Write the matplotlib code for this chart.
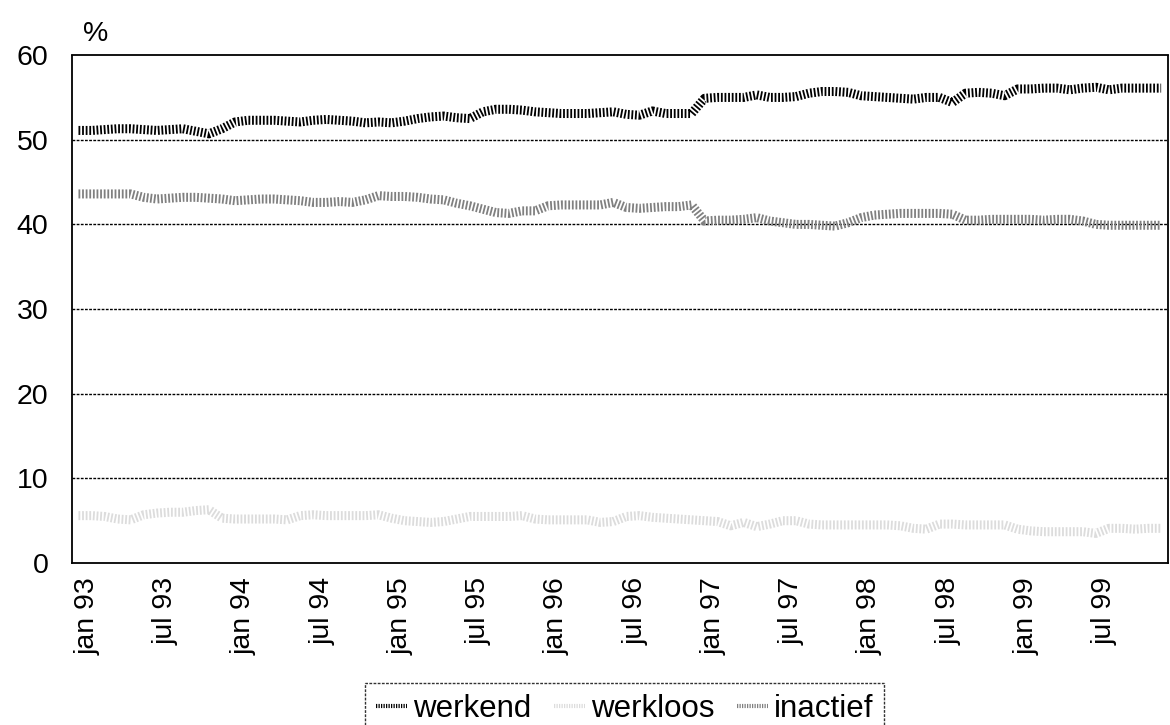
import numpy as np
import matplotlib
matplotlib.use("Agg")
import matplotlib.pyplot as plt
import matplotlib.transforms as mtransforms
from matplotlib.lines import Line2D

plt.rcParams['font.family'] = ['Liberation Sans', 'DejaVu Sans']

# monthly data jan 93 .. dec 99
months = ['jan', 'feb', 'mrt', 'apr', 'mei', 'jun', 'jul', 'aug', 'sep', 'okt', 'nov', 'dec']
years = ['93', '94', '95', '96', '97', '98', '99']
labels = [m + ' ' + y for y in years for m in months]

werkend = [51.1, 51.1, 51.2, 51.3, 51.3, 51.2, 51.1, 51.2, 51.3, 51.0, 50.7, 51.3,
           52.1, 52.3, 52.3, 52.3, 52.2, 52.1, 52.3, 52.4, 52.3, 52.2, 52.0, 52.1,
           52.0, 52.2, 52.5, 52.7, 52.8, 52.6, 52.5, 53.3, 53.6, 53.6, 53.5, 53.3,
           53.2, 53.1, 53.1, 53.1, 53.2, 53.3, 53.0, 52.9, 53.4, 53.1, 53.1, 53.1,
           54.9, 55.0, 55.0, 55.0, 55.3, 55.0, 55.0, 55.1, 55.5, 55.7, 55.7, 55.6,
           55.2, 55.1, 55.0, 54.9, 54.8, 55.0, 55.0, 54.4, 55.5, 55.6, 55.5, 55.2,
           56.0, 56.0, 56.1, 56.1, 55.9, 56.1, 56.2, 55.9, 56.1, 56.1, 56.1, 56.1]

werkloos = [5.6, 5.6, 5.5, 5.2, 5.1, 5.7, 5.9, 6.0, 6.0, 6.2, 6.3, 5.3,
            5.2, 5.2, 5.2, 5.2, 5.1, 5.6, 5.7, 5.6, 5.6, 5.6, 5.6, 5.7,
            5.3, 5.0, 4.9, 4.8, 4.9, 5.2, 5.5, 5.5, 5.5, 5.5, 5.6, 5.2,
            5.1, 5.1, 5.1, 5.1, 4.8, 4.9, 5.5, 5.6, 5.4, 5.3, 5.2, 5.1,
            5.0, 4.9, 4.4, 4.8, 4.3, 4.6, 5.0, 5.0, 4.6, 4.5, 4.5, 4.5,
            4.5, 4.5, 4.5, 4.4, 4.1, 4.0, 4.6, 4.6, 4.5, 4.5, 4.5, 4.5,
            4.0, 3.8, 3.7, 3.7, 3.7, 3.7, 3.5, 4.1, 4.1, 4.0, 4.1, 4.1]

inactief = [43.6, 43.6, 43.6, 43.6, 43.6, 43.2, 43.0, 43.1, 43.2, 43.2, 43.1, 43.0,
            42.8, 42.9, 43.0, 43.0, 42.9, 42.8, 42.6, 42.6, 42.7, 42.6, 42.9, 43.4,
            43.3, 43.3, 43.2, 43.0, 42.9, 42.5, 42.2, 41.8, 41.4, 41.3, 41.6, 41.6,
            42.2, 42.3, 42.3, 42.3, 42.3, 42.6, 42.0, 41.9, 42.0, 42.1, 42.1, 42.3,
            40.4, 40.5, 40.5, 40.6, 40.8, 40.4, 40.2, 40.0, 40.0, 39.9, 39.8, 40.2,
            40.8, 41.1, 41.2, 41.3, 41.3, 41.3, 41.3, 41.2, 40.5, 40.5, 40.6, 40.6,
            40.6, 40.6, 40.5, 40.6, 40.6, 40.4, 40.0, 39.9, 39.9, 39.9, 39.9, 39.9]

series = [('werkend', werkend, '#000000'),
          ('werkloos', werkloos, '#dcdcdc'),
          ('inactief', inactief, '#808080')]

fig = plt.figure(figsize=(11.7, 7.25), dpi=100)
ax = fig.add_axes([0.0615, 0.2234, 0.9365, 0.7006])

x = np.arange(len(labels))
dash = (0, (0.2, 0.2))
for name, vals, col in series:
    ax.plot(x, vals, color=col, lw=6.5, linestyle=dash, dash_capstyle='butt',
            solid_joinstyle='round', zorder=3)

ax.set_xlim(-0.5, len(labels) - 0.5)
ax.set_ylim(0, 60)
ax.set_yticks(range(0, 61, 10))
ax.set_xticks(x[::6])
ax.set_xticklabels(labels[::6], rotation=90, fontsize=20.5)
ax.tick_params(axis='y', length=0, pad=17, labelsize=20.5)
ax.tick_params(axis='x', length=0, pad=10)

# nudge rotated labels a bit right like the original
shift = mtransforms.ScaledTranslation(9 / 100, 0, fig.dpi_scale_trans)
for lab in ax.get_xticklabels():
    lab.set_transform(lab.get_transform() + shift)

for yv in range(10, 60, 10):
    ax.axhline(yv, color='black', lw=1.0, linestyle=(0, (2, 1)), zorder=1)
for sp in ax.spines.values():
    sp.set_linestyle((0, (2, 1)))
    sp.set_linewidth(1.3)

ax.text(0.01, 1.015, '%', transform=ax.transAxes, fontsize=20.5, ha='left', va='bottom')

handles = [Line2D([], [], color=col, lw=3.0, linestyle=(0, (0.3, 0.3)), dash_capstyle='butt')
           for name, vals, col in series]
leg = fig.legend(handles, [s[0] for s in series], loc='lower center', ncol=3,
                 bbox_to_anchor=(0.534, -0.014), fontsize=22.5, frameon=True,
                 fancybox=False, handlelength=1.0, handletextpad=0.2, columnspacing=0.7,
                 borderpad=0.35, borderaxespad=0.0)
leg.get_frame().set_edgecolor('black')
leg.get_frame().set_linestyle((0, (2, 1)))
leg.get_frame().set_linewidth(1.0)

fig.savefig('out.png', dpi=100)
